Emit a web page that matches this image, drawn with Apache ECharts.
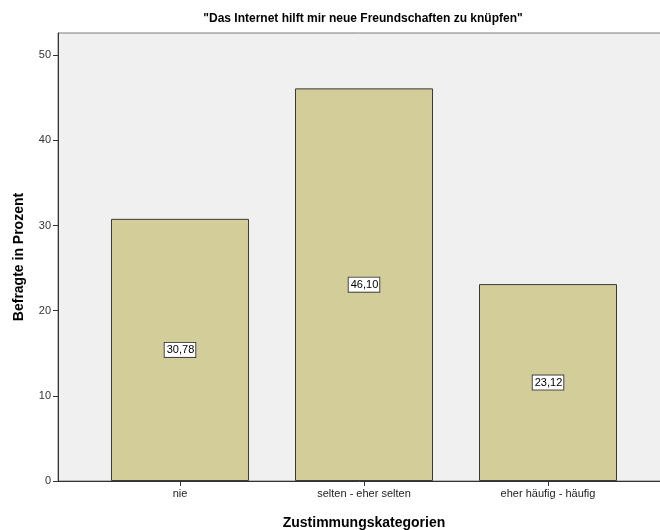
<!DOCTYPE html>
<html>
<head>
<meta charset="utf-8">
<script src="https://cdn.jsdelivr.net/npm/echarts@6/dist/echarts.min.js"></script>
<style>
  html, body { margin: 0; padding: 0; background: #fff; }
  #chart { width: 660px; height: 530px; }
</style>
</head>
<body>
<div id="chart"></div>
<script>
const categories = ["nie", "selten - eher selten", "eher häufig - häufig"];
const percentValues = [30.78, 46.1, 23.12];
const yTicks = [0, 10, 20, 30, 40, 50];

const chart = echarts.init(document.getElementById("chart"));
const font = "Liberation Sans, Arial, sans-serif";

chart.setOption({
  animation: false,
  title: {
    text: '"Das Internet hilft mir neue Freundschaften zu knüpfen"',
    left: 358,
    top: 8,
    textAlign: "center",
    textStyle: { fontFamily: font, fontSize: 12, fontWeight: "bold", color: "#000" },
  },
  grid: {
    left: 58,
    right: -10,
    top: 33,
    bottom: 49,
    outerBoundsMode: "none",
    containLabel: false,
    show: true,
    backgroundColor: "#F0F0F0",
    borderColor: "#7a7a7a",
    borderWidth: 1,
  },
  xAxis: {
    type: "value",
    min: -0.663,
    max: 2.663,
    name: "Zustimmungskategorien",
    nameLocation: "middle",
    nameGap: 35,
    nameTextStyle: { fontFamily: font, fontSize: 14, fontWeight: "bold", color: "#000" },
    axisLine: { show: true, onZero: false, lineStyle: { color: "#333", width: 1 } },
    axisTick: {
      show: true,
      length: 5,
      customValues: categories.map((c, i) => i),
      lineStyle: { color: "#333" },
    },
    axisLabel: {
      customValues: categories.map((c, i) => i),
      formatter: (v) => categories[Math.round(v)],
      fontFamily: font,
      fontSize: 11,
      color: "#222",
      margin: 7,
    },
    splitLine: { show: false },
  },
  yAxis: {
    type: "value",
    min: 0,
    max: 52.6,
    interval: 10,
    name: "Befragte in Prozent",
    nameLocation: "middle",
    nameGap: 32,
    nameTextStyle: { fontFamily: font, fontSize: 14, fontWeight: "bold", color: "#000" },
    axisLine: { show: true, onZero: false, lineStyle: { color: "#333", width: 1 } },
    axisTick: { show: true, length: 5, customValues: yTicks, lineStyle: { color: "#333" } },
    axisLabel: {
      customValues: yTicks,
      fontFamily: font,
      fontSize: 11,
      color: "#333",
      margin: 7,
    },
    splitLine: { show: false },
  },
  series: [
    {
      type: "bar",
      barWidth: 138,
      data: percentValues.map((v, i) => [i, v]),
      itemStyle: { color: "#D3CE99", borderColor: "#3a3a3a", borderWidth: 1 },
      label: {
        show: true,
        position: "inside",
        formatter: (p) => p.value[1].toFixed(2).replace(".", ","),
        fontFamily: font,
        fontSize: 11,
        color: "#000",
        backgroundColor: "#fff",
        borderColor: "#444",
        borderWidth: 1,
        padding: [2, 1, 1, 2],
      },
    },
  ],
});
</script>
</body>
</html>
